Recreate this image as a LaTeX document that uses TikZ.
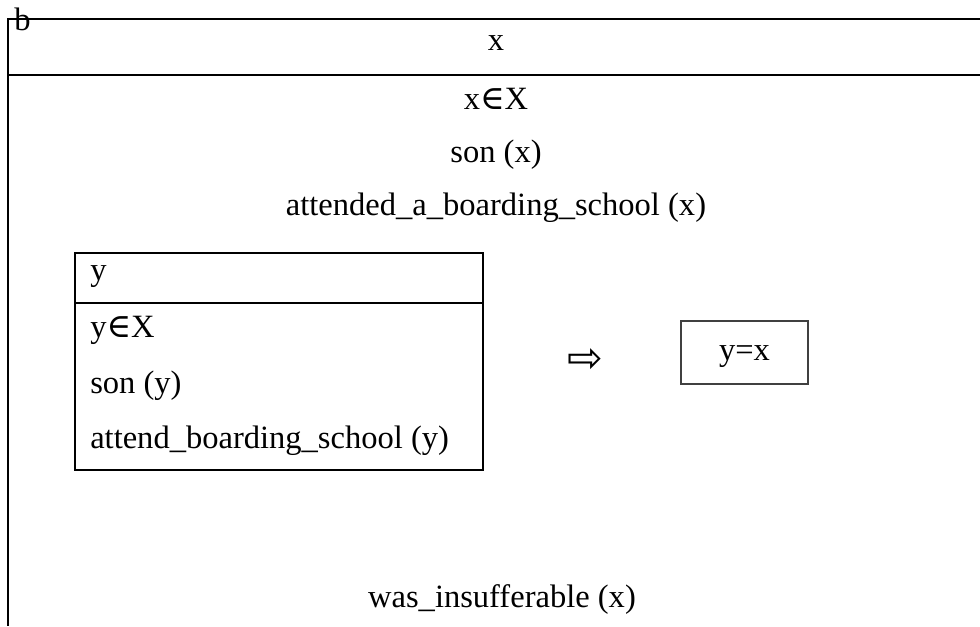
\documentclass[tikz,border=0pt]{standalone}
\usepackage{fontspec}
\setmainfont{Liberation Serif}
\newfontfamily\arrowfont{DejaVu Sans}
\newfontfamily\relfont{DejaVu Serif}
\newcommand\memb{{\relfont\fontsize{25}{25}\selectfont ∈}}
\usetikzlibrary{positioning}

\begin{document}
\begin{tikzpicture}[x=0.75pt, y=-0.75pt, on grid,
    txt/.style = {font=\fontsize{24.4}{29}\selectfont, inner sep=0pt, text height=17pt, text depth=5pt},
    frame/.style = {line width=1.5pt},
    eqbox/.style = {txt, draw=black!75, line width=1pt, minimum width=95.25pt, minimum height=47.25pt}]
    \useasboundingbox (0,0) rectangle (980,626);
    % outer box: open on the right and at the bottom
    \draw[frame] (980,19) -- (8,19) -- (8,626);
    \draw[frame] (8,75) -- (980,75);
    \node[txt, anchor=base west] (blabel) at (14,30) {b};
    \node[txt] (xhead) at (496,42) {x};
    \node[txt] (xin) [below=44.25pt of xhead] {x\memb X};
    \node[txt] (sonx) [below=39.75pt of xin] {son (x)};
    \node[txt] (boardx) [below=39.75pt of sonx] {attended\_a\_boarding\_school (x)};
    % inner box for y
    \draw[frame] (75,253) rectangle (483,470);
    \draw[frame] (75,303) -- (483,303);
    \node[txt, anchor=west] (yhead) at (90,272) {y};
    \node[txt] (yin) [below=42.75pt of yhead.west, anchor=west] {y\memb X};
    \node[txt] (sony) [below=42pt of yin.west, anchor=west] {son (y)};
    \node[txt] (boardy) [below=41.25pt of sony.west, anchor=west] {attend\_boarding\_school (y)};
    % implication and consequent
    \node[font=\arrowfont\fontsize{32}{32}\selectfont, inner sep=0pt] (imp) at (585,361) {⇨};
    \node[eqbox] (eq) at (744.5,352.5) {y=x};
    \node[txt] (insuf) at (502,599) {was\_insufferable (x)};
\end{tikzpicture}
\end{document}
